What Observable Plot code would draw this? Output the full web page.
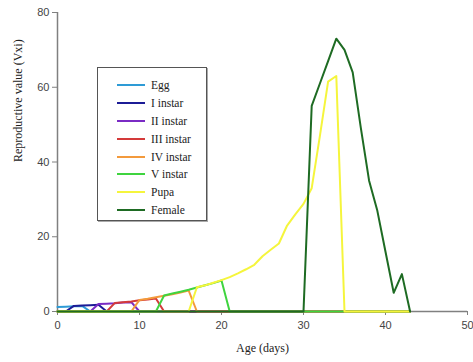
<!DOCTYPE html>
<html>
<head>
<meta charset="utf-8">
<script src="https://cdn.jsdelivr.net/npm/d3@7"></script>
<script src="https://cdn.jsdelivr.net/npm/@observablehq/plot@0.6"></script>
<style>
  html, body { margin: 0; padding: 0; background: #fff; }
  #chart { position: relative; width: 473px; height: 362px; }
  #legend {
    position: absolute; left: 97px; top: 67px; width: 110px; height: 154px;
    box-sizing: border-box; border: 1px solid #555; background: #fff;
    box-shadow: 1px 1px 0 #aaa;
    padding-top: 8px;
    font-family: "Liberation Serif", "Times New Roman", serif; font-size: 11.5px; color: #222;
  }
  .row { display: flex; align-items: center; height: 17.9px; }
  .swatch { width: 28px; height: 2px; margin-left: 19px; margin-right: 6px; }
</style>
</head>
<body>
<div id="chart"></div>
<script>
// Age-stage reproductive value (Vxj) by age in days, one list per stage (days 0..43)
const stages = ["Egg", "I instar", "II instar", "III instar", "IV instar", "V instar", "Pupa", "Female"];
const colors = ["#2e9bd6", "#1c1c96", "#7a2bc4", "#d43a3a", "#f39a3c", "#3fd43f", "#f5f53c", "#1e6b23"];

const egg = [
  1.2, 1.3, 1.4, 1.5, 0, 0, 0, 0, 0, 0,
  0, 0, 0, 0, 0, 0, 0, 0, 0, 0,
  0, 0, 0, 0, 0, 0, 0, 0, 0, 0,
  0, 0, 0, 0, 0, 0, 0, 0, 0, 0,
  0, 0, 0, 0
];
const instar1 = [
  0, 0, 1.5, 1.6, 1.7, 1.8, 0, 0, 0, 0,
  0, 0, 0, 0, 0, 0, 0, 0, 0, 0,
  0, 0, 0, 0, 0, 0, 0, 0, 0, 0,
  0, 0, 0, 0, 0, 0, 0, 0, 0, 0,
  0, 0, 0, 0
];
const instar2 = [
  0, 0, 0, 0, 0, 2.0, 2.1, 2.2, 2.4, 2.5,
  0, 0, 0, 0, 0, 0, 0, 0, 0, 0,
  0, 0, 0, 0, 0, 0, 0, 0, 0, 0,
  0, 0, 0, 0, 0, 0, 0, 0, 0, 0,
  0, 0, 0, 0
];
const instar3 = [
  0, 0, 0, 0, 0, 0, 0, 2.3, 2.5, 2.7,
  3.0, 3.2, 3.5, 0, 0, 0, 0, 0, 0, 0,
  0, 0, 0, 0, 0, 0, 0, 0, 0, 0,
  0, 0, 0, 0, 0, 0, 0, 0, 0, 0,
  0, 0, 0, 0
];
const instar4 = [
  0, 0, 0, 0, 0, 0, 0, 0, 0, 0,
  3.1, 3.4, 3.8, 4.2, 4.6, 5.1, 5.6, 0, 0, 0,
  0, 0, 0, 0, 0, 0, 0, 0, 0, 0,
  0, 0, 0, 0, 0, 0, 0, 0, 0, 0,
  0, 0, 0, 0
];
const instar5 = [
  0, 0, 0, 0, 0, 0, 0, 0, 0, 0,
  0, 0, 0, 4.3, 4.8, 5.3, 5.8, 6.4, 7.0, 7.6,
  8.3, 0, 0, 0, 0, 0, 0, 0, 0, 0,
  0, 0, 0, 0, 0, 0, 0, 0, 0, 0,
  0, 0, 0, 0
];
const pupa = [
  0, 0, 0, 0, 0, 0, 0, 0, 0, 0,
  0, 0, 0, 0, 0, 0, 0, 6.5, 7.0, 7.7,
  8.4, 9.2, 10.2, 11.3, 12.5, 14.8, 16.5, 18.2, 23.0, 26.0,
  28.8, 33.0, 47.0, 61.5, 63.0, 0, 0, 0, 0, 0,
  0, 0, 0, 0
];
const female = [
  0, 0, 0, 0, 0, 0, 0, 0, 0, 0,
  0, 0, 0, 0, 0, 0, 0, 0, 0, 0,
  0, 0, 0, 0, 0, 0, 0, 0, 0, 0,
  0, 55, 61, 67, 73, 70, 64, 49, 35, 27,
  16, 5, 10, 0
];

const xTicks = [0, 10, 20, 30, 40, 50];
const yTicks = [0, 20, 40, 60, 80];

const series = [egg, instar1, instar2, instar3, instar4, instar5, pupa, female];
const rows = series.flatMap((vals, i) =>
  vals.map((v, day) => ({stage: stages[i], day, value: v}))
);

const chart = Plot.plot({
  width: 473,
  height: 362,
  marginLeft: 57,
  marginRight: 6,
  marginTop: 12,
  marginBottom: 51,
  style: {fontFamily: "'Liberation Sans', Arial, sans-serif", fontSize: "11px", color: "#444", background: "#fff"},
  x: {domain: [0, 50]},
  y: {domain: [0, 80]},
  color: {domain: stages, range: colors},
  marks: [
    Plot.ruleY([0], {stroke: "#808080", strokeWidth: 1.5}),
    Plot.ruleX([0], {stroke: "#808080", strokeWidth: 1.5}),
    Plot.axisX({ticks: xTicks, tickSize: 4, tickPadding: 6, label: null, stroke: "#808080"}),
    Plot.axisY({ticks: yTicks, tickSize: 5, tickPadding: 3, label: null, stroke: "#808080"}),
    ...stages.map(s =>
      Plot.lineY(rows.filter(d => d.stage === s), {x: "day", y: "value", stroke: "stage", strokeWidth: 2})
    ),
    Plot.text(["Age (days)"], {
      text: d => d, frameAnchor: "bottom", dy: 40,
      fontFamily: "'Liberation Serif', 'Times New Roman', serif", fontSize: 12, fill: "#222"
    }),
    Plot.text(["Reproductive value (Vxi)"], {
      text: d => d, frameAnchor: "left", dx: -39, rotate: -90,
      fontFamily: "'Liberation Serif', 'Times New Roman', serif", fontSize: 12, fill: "#222"
    })
  ]
});

const root = document.getElementById("chart");
root.appendChild(chart);

// Legend box inside the plot area
const legend = document.createElement("div");
legend.id = "legend";
stages.forEach((s, i) => {
  const row = document.createElement("div");
  row.className = "row";
  const sw = document.createElement("span");
  sw.className = "swatch";
  sw.style.background = colors[i];
  const label = document.createElement("span");
  label.textContent = s;
  row.appendChild(sw);
  row.appendChild(label);
  legend.appendChild(row);
});
root.appendChild(legend);
</script>
</body>
</html>
